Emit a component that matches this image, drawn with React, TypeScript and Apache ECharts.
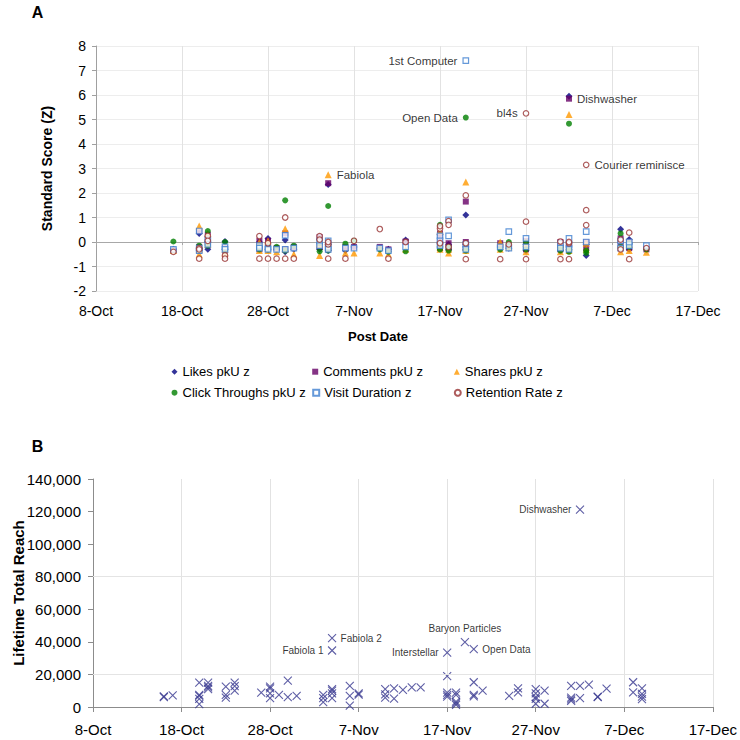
import React, { useEffect, useRef } from "react";
import * as echarts from "echarts";

const FONT = "'Liberation Sans', Arial, Helvetica, sans-serif";
const MONTHS = ["Jan", "Feb", "Mar", "Apr", "May", "Jun", "Jul", "Aug", "Sep", "Oct", "Nov", "Dec"];
const YEAR = 2012;
const START_DATE = "8-Oct";

// X-axis tick labels (every 10 days)
const xTickLabels = ["8-Oct", "18-Oct", "28-Oct", "7-Nov", "17-Nov", "27-Nov", "7-Dec", "17-Dec"];

// Panel A: series names
const seriesNamesA = [
  "Likes pkU z",
  "Comments pkU z",
  "Shares pkU z",
  "Click Throughs pkU z",
  "Visit Duration z",
  "Retention Rate z",
];

// Panel A: post dates (one column of points per date)
const aDates = [
  "17-Oct", "20-Oct", "21-Oct", "23-Oct", "27-Oct", "28-Oct", "29-Oct", "30-Oct", "31-Oct",
  "3-Nov", "4-Nov", "6-Nov", "7-Nov", "10-Nov", "11-Nov", "13-Nov", "17-Nov", "18-Nov",
  "20-Nov", "24-Nov", "25-Nov", "27-Nov", "1-Dec", "2-Dec", "4-Dec", "8-Dec", "9-Dec", "11-Dec",
];

// Panel A values per date (parallel to aDates)
const likesZ = [
  [-0.3], [0.35, -0.25, -0.35], [0.0, -0.3], [0.02, -0.3], [0.0, -0.2], [0.14, -0.3], [-0.3],
  [0.08, -0.4], [-0.3], [0.1, -0.3], [2.35, -0.35, -0.1], [-0.35], [-0.2], [-0.25], [-0.3],
  [0.08], [0.3, 0.0, -0.2], [-0.1, -0.3], [1.1, -0.3, -0.1], [-0.2], [-0.25], [-0.1, -0.35],
  [-0.15, -0.35], [5.95, -0.3, -0.15], [-0.55, -0.1], [0.52, 0.0], [0.1, -0.3], [-0.25],
];
const commentsZ = [
  [-0.35], [0.45, -0.2, -0.35], [0.3, 0.0], [-0.25, -0.35], [0.05, -0.3], [0.05, -0.25], [-0.25],
  [0.35, -0.3], [-0.2], [0.2, -0.2], [2.4, -0.3, -0.05], [-0.2], [-0.2], [-0.2], [-0.3],
  [0.02], [0.35, 0.1, -0.25], [-0.05, -0.25], [1.65, 0.0, -0.25], [-0.05], [-0.15], [0.05, -0.3],
  [0.0, -0.3], [5.85, -0.25, -0.1], [0.0, -0.25], [0.15, -0.15], [0.0, -0.25], [-0.3],
];
const sharesZ = [
  [-0.35], [0.65, -0.3, -0.5], [0.35, -0.1], [-0.45, -0.3], [0.0, -0.35], [0.05, -0.35], [-0.4],
  [0.54, -0.3], [-0.5], [-0.1, -0.55], [2.75, -0.15, 0.0], [-0.45], [-0.45], [-0.45], [-0.5],
  [-0.3], [0.45, -0.2, -0.3], [-0.3, -0.45], [2.45, -0.2, -0.35], [0.0, -0.3], [-0.2], [-0.05, -0.4],
  [-0.1, -0.4], [5.2, -0.2, -0.35], [-0.05, -0.3], [-0.1, -0.4], [-0.1, -0.35], [-0.42],
];
const clicksZ = [
  [0.02], [-0.15, -0.3, -0.35], [0.45, -0.15], [0.0, -0.3], [-0.2, -0.3], [-0.3, -0.2], [-0.2],
  [1.7, -0.35], [-0.15], [-0.05, -0.38], [1.47, -0.35, -0.2], [-0.07], [0.05], [-0.3], [-0.4],
  [-0.38], [0.7, -0.3, -0.1], [-0.2, -0.35], [5.08, -0.35, -0.2], [-0.3], [0.0, -0.2], [0.0, -0.3],
  [-0.35, -0.2], [4.83, -0.4, -0.25], [-0.35, -0.45], [0.35, -0.2], [-0.05, -0.2], [-0.3],
];
const visitZ = [
  [-0.3], [0.45, -0.25, -0.35], [0.1, -0.1], [-0.2, -0.3], [-0.15, -0.25], [-0.25, -0.3], [-0.3],
  [0.27, -0.3], [-0.25], [0.05, -0.15], [0.05, -0.2, -0.3], [-0.25], [-0.25], [-0.25], [-0.35],
  [-0.2], [0.25, 0.05, -0.15], [0.9, 0.25], [7.4, -0.1, -0.3], [-0.2], [0.42, -0.25], [0.15, -0.2],
  [-0.05, -0.25], [0.15, -0.1, -0.3], [0.42, 0.0], [0.05, -0.25], [-0.15, 0.0], [-0.15],
];
const retentionZ = [
  [-0.4], [-0.25, -0.68, -0.3], [0.25, 0.05], [-0.55, -0.68], [0.24, -0.68], [-0.68, -0.05], [-0.68],
  [1.0, -0.68], [-0.68], [0.24, 0.1], [-0.68, -0.1, 0.0], [-0.68], [0.05], [0.53], [-0.68],
  [0.0], [0.55, 0.65, -0.05], [0.85, 0.7, -0.2], [1.9, -0.7, -0.05], [-0.7], [-0.1], [5.25, 0.83, -0.7],
  [0.02, -0.7], [-0.7, -0.05, 0.0], [3.15, 1.3, 0.69], [-0.3, 0.1], [0.38, -0.7], [-0.25],
];

// Panel A annotations
const aNotes = [
  { series: "Visit Duration z", date: "20-Nov", value: 7.4, text: "1st Computer" },
  { series: "Click Throughs pkU z", date: "20-Nov", value: 5.08, text: "Open Data" },
  { series: "Shares pkU z", date: "4-Nov", value: 2.75, text: "Fabiola" },
  { series: "Retention Rate z", date: "27-Nov", value: 5.25, text: "bl4s" },
  { series: "Comments pkU z", date: "2-Dec", value: 5.85, text: "Dishwasher" },
  { series: "Retention Rate z", date: "4-Dec", value: 3.15, text: "Courier reminisce" },
];

// Panel B: post dates and lifetime total reach per date
const bDates = [
  "16-Oct", "17-Oct", "20-Oct", "21-Oct", "23-Oct", "24-Oct", "27-Oct", "28-Oct", "29-Oct",
  "30-Oct", "31-Oct", "3-Nov", "4-Nov", "6-Nov", "7-Nov", "10-Nov", "11-Nov", "12-Nov",
  "13-Nov", "14-Nov", "17-Nov", "18-Nov", "19-Nov", "20-Nov", "21-Nov", "24-Nov", "25-Nov",
  "27-Nov", "28-Nov", "1-Dec", "2-Dec", "3-Dec", "4-Dec", "5-Dec", "8-Dec", "9-Dec",
];
const reach = [
  [6500, 6000], [7200], [15000, 7500, 6800, 5000, 1800], [15000, 13000, 12000, 11000],
  [12500, 7400, 5800], [15000, 12800, 10000], [8800], [12500, 11500, 8400, 5400], [7400],
  [16200, 6100], [6800], [7400, 5400, 3000], [42300, 34700, 11000, 10000, 8400, 5400],
  [13000, 6800, 800], [8400, 7600], [11000, 7800, 5700], [11500, 5100], [10500],
  [12000], [12000], [33400, 18900, 8800, 7400, 6400], [8800, 7400, 3300, 2300, 1300], [39800],
  [35500, 15200, 7400, 6500], [10000], [6800], [11500, 9000],
  [11000, 8400, 6000, 5000, 2000], [10000, 2000], [13000, 5700, 4700, 3700], [121200, 13000, 5400],
  [13800], [6400, 6000], [11300], [15200, 9000], [11500, 8000, 6400, 4900],
];
const bNotes = [
  { date: "4-Nov", value: 42300, text: "Fabiola 2" },
  { date: "4-Nov", value: 34700, text: "Fabiola 1" },
  { date: "17-Nov", value: 33400, text: "Interstellar" },
  { date: "19-Nov", value: 39800, text: "Baryon Particles" },
  { date: "20-Nov", value: 35500, text: "Open Data" },
  { date: "2-Dec", value: 121200, text: "Dishwasher" },
];
const bGridValues = [20000, 80000];

// ---------- helpers ----------
function toUTC(s: string) {
  const [d, m] = s.split("-");
  return Date.UTC(YEAR, MONTHS.indexOf(m), parseInt(d, 10));
}
const BASE = toUTC(START_DATE);
function dayOffset(s: string) {
  return Math.round((toUTC(s) - BASE) / 86400000);
}

const notePosA: Record<string, string> = {
  "1st Computer": "left",
  "Open Data": "left",
  Fabiola: "right",
  bl4s: "left",
  Dishwasher: "right",
  "Courier reminisce": "right",
};
const notePosB: Record<string, string> = {
  "Fabiola 2": "right",
  "Fabiola 1": "left",
  Interstellar: "left",
  "Baryon Particles": "top",
  "Open Data": "right",
  Dishwasher: "left",
};

const styleA: Record<string, any> = {
  "Likes pkU z": { symbol: "diamond", size: 7, itemStyle: { color: "#000080" } },
  "Comments pkU z": { symbol: "rect", size: 6, itemStyle: { color: "#660066" } },
  "Shares pkU z": { symbol: "triangle", size: 7, itemStyle: { color: "#FF9900" } },
  "Click Throughs pkU z": { symbol: "circle", size: 6, itemStyle: { color: "#008000" } },
  "Visit Duration z": {
    symbol: "rect",
    size: 5.5,
    itemStyle: { color: "#ffffff", borderColor: "#3F7FCF", borderWidth: 1.2 },
  },
  "Retention Rate z": {
    symbol: "circle",
    size: 5.5,
    itemStyle: { color: "#ffffff", borderColor: "#993333", borderWidth: 1.2 },
  },
};
const valuesA: Record<string, number[][]> = {
  "Likes pkU z": likesZ,
  "Comments pkU z": commentsZ,
  "Shares pkU z": sharesZ,
  "Click Throughs pkU z": clicksZ,
  "Visit Duration z": visitZ,
  "Retention Rate z": retentionZ,
};

function buildSeriesA() {
  return seriesNamesA.map((name) => {
    const vals = valuesA[name];
    const data: any[] = [];
    aDates.forEach((d, i) => {
      vals[i].forEach((v) => {
        const note = aNotes.find((n) => n.series === name && n.date === d && n.value === v);
        const x = dayOffset(d);
        if (note) {
          data.push({
            value: [x, v],
            label: {
              show: true,
              formatter: note.text,
              position: notePosA[note.text],
              distance: 5,
              fontSize: 11.5,
              fontFamily: FONT,
              color: "#000",
            },
          });
        } else {
          data.push([x, v]);
        }
      });
    });
    const st = styleA[name];
    return {
      name,
      type: "scatter",
      xAxisIndex: 0,
      yAxisIndex: 0,
      symbol: st.symbol,
      symbolSize: st.size,
      itemStyle: st.itemStyle,
      emphasis: { disabled: true },
      data,
    };
  });
}

function buildSeriesB() {
  const data: any[] = [];
  bDates.forEach((d, i) => {
    reach[i].forEach((v) => {
      const x = dayOffset(d);
      const note = bNotes.find((n) => n.date === d && n.value === v);
      if (note) {
        data.push({
          value: [x, v],
          label: {
            show: true,
            formatter: note.text,
            position: notePosB[note.text],
            distance: 4,
            fontSize: 10,
            fontFamily: FONT,
            color: "#000",
          },
        });
      } else {
        data.push([x, v]);
      }
    });
  });
  return {
    name: "Lifetime Total Reach",
    type: "scatter",
    xAxisIndex: 2,
    yAxisIndex: 1,
    symbol: "path://M0,0L8,8M8,0L0,8",
    symbolSize: 8,
    itemStyle: { color: "rgba(0,0,0,0)", borderColor: "#36368F", borderWidth: 1.1 },
    emphasis: { disabled: true },
    markLine: {
      silent: true,
      symbol: "none",
      label: { show: false },
      lineStyle: { color: "#e4e4e4", type: "solid", width: 1 },
      emphasis: { disabled: true },
      data: bGridValues.map((v) => ({ yAxis: v })),
    },
    data,
  };
}

const legendCols = [171.5, 312.2, 453.8];
const legendRows = [364.7, 385.7];

function buildOption() {
  const tickFmt = (v: number) => xTickLabels[Math.round(v / 10)] ?? "";
  const legends = seriesNamesA.map((name, i) => ({
    data: [name],
    left: legendCols[i % 3],
    top: legendRows[Math.floor(i / 3)],
    orient: "horizontal",
    padding: 0,
    itemGap: 0,
    itemWidth: 6,
    itemHeight: 6,
    selectedMode: false,
    textStyle: { fontSize: 13, fontFamily: FONT, color: "#000", lineHeight: 14, padding: [0, 0, 0, 0] },
  }));
  return {
    animation: false,
    backgroundColor: "#ffffff",
    textStyle: { fontFamily: FONT },
    legend: legends,
    grid: [
      { left: 96, top: 46, width: 602, height: 245 },
      { left: 93, top: 479, width: 620, height: 228 },
    ],
    xAxis: [
      {
        type: "value",
        gridIndex: 0,
        min: 0,
        max: 70,
        interval: 10,
        position: "bottom",
        axisLine: { show: false, onZero: false },
        axisTick: { show: false },
        axisLabel: { fontSize: 14, color: "#000", margin: 13, fontFamily: FONT, formatter: tickFmt },
        splitLine: { show: true, lineStyle: { color: "#e2e2e2", width: 1 } },
      },
      {
        type: "value",
        gridIndex: 0,
        min: 0,
        max: 70,
        interval: 10,
        position: "top",
        axisLine: { show: true, onZero: true, lineStyle: { color: "#a8a8a8", width: 1 } },
        axisTick: { show: true, inside: true, length: 3, lineStyle: { color: "#a8a8a8" } },
        axisLabel: { show: false },
        splitLine: { show: false },
      },
      {
        type: "value",
        gridIndex: 1,
        min: 0,
        max: 70,
        interval: 10,
        position: "bottom",
        axisLine: { show: true, onZero: false, lineStyle: { color: "#8c8c8c", width: 1 } },
        axisTick: { show: true, length: 5, lineStyle: { color: "#8c8c8c" } },
        axisLabel: { fontSize: 15, color: "#000", margin: 15, fontFamily: FONT, formatter: tickFmt },
        splitLine: { show: true, lineStyle: { color: "#e2e2e2", width: 1 } },
      },
    ],
    yAxis: [
      {
        type: "value",
        gridIndex: 0,
        min: -2,
        max: 8,
        interval: 1,
        axisLine: { show: true, onZero: false, lineStyle: { color: "#a0a0a0", width: 1 } },
        axisTick: { show: true, length: 4, lineStyle: { color: "#a0a0a0" } },
        axisLabel: { fontSize: 14, color: "#000", margin: 10, fontFamily: FONT },
        splitLine: { show: true, lineStyle: { color: "#ededed", width: 1 } },
      },
      {
        type: "value",
        gridIndex: 1,
        min: 0,
        max: 140000,
        interval: 20000,
        axisLine: { show: true, onZero: false, lineStyle: { color: "#8c8c8c", width: 1 } },
        axisTick: { show: true, length: 5, lineStyle: { color: "#8c8c8c" } },
        axisLabel: {
          fontSize: 15,
          color: "#000",
          margin: 12,
          fontFamily: FONT,
          formatter: (v: number) => v.toLocaleString("en-US"),
        },
        splitLine: { show: false },
      },
    ],
    graphic: [
      {
        type: "text",
        x: 37.5,
        y: 12,
        style: { text: "A", font: `bold 16px ${FONT}`, fill: "#000", textAlign: "center", textVerticalAlign: "middle" },
      },
      {
        type: "text",
        x: 37.5,
        y: 446,
        style: { text: "B", font: `bold 16px ${FONT}`, fill: "#000", textAlign: "center", textVerticalAlign: "middle" },
      },
      {
        type: "text",
        x: 47,
        y: 168.5,
        rotation: Math.PI / 2,
        style: {
          text: "Standard Score (Z)",
          font: `bold 14px ${FONT}`,
          fill: "#000",
          textAlign: "center",
          textVerticalAlign: "middle",
        },
      },
      {
        type: "text",
        x: 378,
        y: 336,
        style: { text: "Post Date", font: `bold 13px ${FONT}`, fill: "#000", textAlign: "center", textVerticalAlign: "middle" },
      },
      {
        type: "text",
        x: 18,
        y: 593,
        rotation: Math.PI / 2,
        style: {
          text: "Lifetime Total Reach",
          font: `bold 15px ${FONT}`,
          fill: "#000",
          textAlign: "center",
          textVerticalAlign: "middle",
        },
      },
    ],
    series: [...buildSeriesA(), buildSeriesB()],
  };
}

export default function App() {
  const ref = useRef<HTMLDivElement>(null);
  useEffect(() => {
    if (!ref.current) return;
    const chart = echarts.init(ref.current, undefined, { renderer: "svg" });
    chart.setOption(buildOption() as any);
    return () => {
      chart.dispose();
    };
  }, []);
  return (
    <div
      ref={ref}
      style={{ position: "fixed", left: 0, top: 0, width: 740, height: 740, background: "#fff" }}
    />
  );
}
